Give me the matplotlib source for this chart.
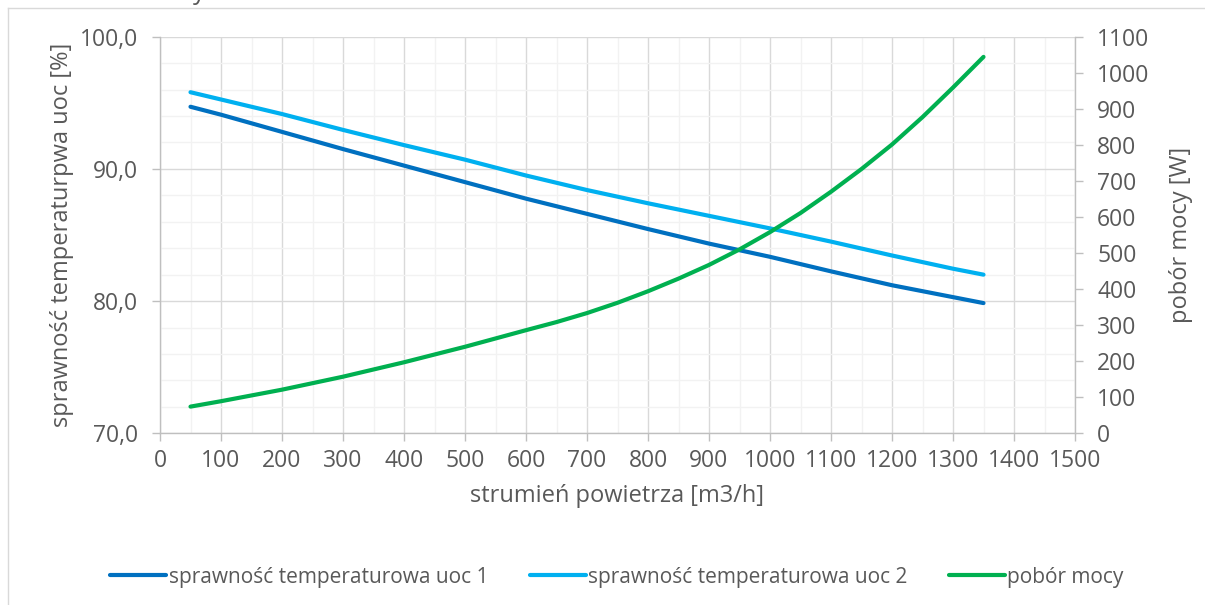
import matplotlib
matplotlib.use('Agg')
import matplotlib.pyplot as plt
from matplotlib.ticker import MultipleLocator, FuncFormatter
from matplotlib.lines import Line2D

plt.rcParams['font.family'] = ['Open Sans', 'DejaVu Sans']

# values
flow = [50, 100, 200, 300, 400, 500, 600, 700, 800, 900, 1000, 1100, 1200, 1300, 1350]
eff_uoc1 = [94.7, 94.1, 92.8, 91.5, 90.25, 89.0, 87.75, 86.6, 85.45, 84.35, 83.35, 82.25, 81.2, 80.3, 79.85]
eff_uoc2 = [95.8, 95.25, 94.15, 92.95, 91.8, 90.7, 89.5, 88.4, 87.4, 86.45, 85.5, 84.5, 83.45, 82.45, 82.0]

flow_power = [50, 100, 200, 300, 400, 500, 600, 650, 700, 750, 800, 850, 900, 950,
              1000, 1050, 1100, 1150, 1200, 1250, 1300, 1350]
power = [74, 89, 121, 157, 197, 240, 286, 308.5, 333.5, 362, 394, 429, 467, 510,
         558, 611, 670, 733, 801, 877, 959, 1044]

label_uoc1 = "sprawność temperaturowa uoc 1"
label_uoc2 = "sprawność temperaturowa uoc 2"
label_power = "pobór mocy"

TXT = '#595959'
AXC = '#bfbfbf'
W, H = 1205, 605

fig = plt.figure(figsize=(W / 100, H / 100), dpi=100)
ax = fig.add_axes([160 / W, 1 - 433.3 / H, 915 / W, 396.6 / H])
ax2 = ax.twinx()

l1, = ax.plot(flow, eff_uoc1, color='#0070C0', lw=3, solid_capstyle='round', label=label_uoc1)
l2, = ax.plot(flow, eff_uoc2, color='#00B0F0', lw=3, solid_capstyle='round', label=label_uoc2)
l3, = ax2.plot(flow_power, power, color='#00B050', lw=3, solid_capstyle='round', label=label_power)

ax.set_xlim(0, 1500)
ax.set_ylim(70, 100)
ax2.set_ylim(0, 1100)
ax.xaxis.set_major_locator(MultipleLocator(100))
ax.xaxis.set_minor_locator(MultipleLocator(50))
ax.yaxis.set_major_locator(MultipleLocator(10))
ax.yaxis.set_minor_locator(MultipleLocator(2))
ax2.yaxis.set_major_locator(MultipleLocator(100))
ax.yaxis.set_major_formatter(FuncFormatter(lambda v, p: f"{v:.1f}".replace('.', ',')))

ax.grid(which='major', color='#d9d9d9', lw=1)
ax.grid(which='minor', color='#f2f2f2', lw=1)
ax.set_axisbelow(True)

for a in (ax, ax2):
    for s in a.spines.values():
        s.set_visible(False)
    a.tick_params(which='major', length=6, width=1, color=AXC, labelcolor=TXT, labelsize=16.5)
    a.tick_params(which='minor', length=0)
ax.tick_params(axis='x', pad=5)
ax.tick_params(axis='y', pad=10)
ax2.tick_params(axis='y', pad=10)
ax.spines['left'].set_visible(True)
ax.spines['bottom'].set_visible(True)
ax2.spines['right'].set_visible(True)
for s in (ax.spines['left'], ax.spines['bottom'], ax2.spines['right']):
    s.set_color(AXC)
    s.set_linewidth(1)

ax.set_xlabel("strumień powietrza [m3/h]", fontsize=17, color=TXT, labelpad=8)
ax.set_ylabel("sprawność temperaturpwa uoc [%]", fontsize=17, color=TXT, labelpad=4)
ax2.set_ylabel("pobór mocy [W]", fontsize=17, color=TXT, labelpad=14)

fig.legend(handles=[l1, l2, l3], loc='center', bbox_to_anchor=(617 / W, 1 - 577 / H),
           ncol=3, frameon=False, fontsize=15, labelcolor=TXT,
           handlelength=2.7, handletextpad=0.1, columnspacing=2.0)

# chart area border, cropped on the right and bottom
fig.add_artist(Line2D([8 / W, 1], [1 - 8 / H, 1 - 8 / H], color='#d9d9d9', lw=1))
fig.add_artist(Line2D([8 / W, 8 / W], [1 - 8 / H, 0], color='#d9d9d9', lw=1))
# remnant of the cropped title
fig.text(199 / W, 1 + 1 / H, "y", fontsize=18, color=TXT, ha='center', va='baseline')

fig.savefig("out.png", dpi=100)
